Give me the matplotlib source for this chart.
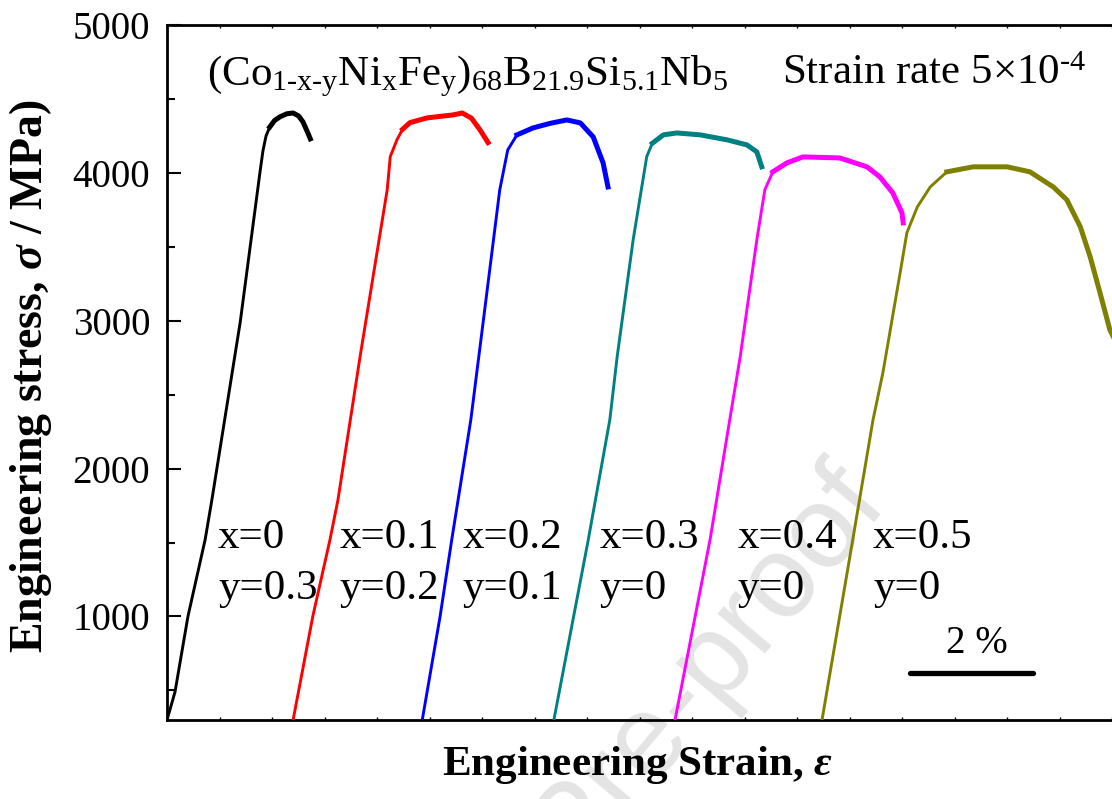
import numpy as np
import matplotlib.pyplot as plt
from matplotlib.ticker import MultipleLocator

plt.rcParams['font.family'] = 'Liberation Serif'
plt.rcParams['mathtext.fontset'] = 'custom'
plt.rcParams['mathtext.rm'] = 'Liberation Serif'
plt.rcParams['mathtext.it'] = 'Liberation Serif:italic'
plt.rcParams['mathtext.bf'] = 'Liberation Serif:bold'
plt.rcParams['mathtext.bfit'] = 'Liberation Serif:italic:bold'

# compression curves, strain in %, stress in MPa (curves shifted along strain)
strain_0 = [0.00, 0.13, 0.34, 0.62, 0.73, 1.19, 1.51, 1.56, 1.61, 1.67, 1.75, 1.84, 1.95, 2.05, 2.14, 2.21, 2.29, 2.33]
stress_0 = [300, 490, 1000, 1520, 1790, 2990, 4000, 4150, 4250, 4310, 4355, 4380, 4400, 4405, 4385, 4345, 4270, 4230]

strain_1 = [2.05, 2.37, 2.65, 2.78, 3.14, 3.58, 3.63, 3.74, 3.83, 3.95, 4.23, 4.65, 4.80, 4.95, 5.09, 5.22]
stress_1 = [300, 1000, 1520, 1790, 2760, 3885, 4110, 4225, 4295, 4340, 4372, 4392, 4405, 4370, 4290, 4205]

strain_2 = [4.15, 4.44, 4.63, 4.94, 5.14, 5.41, 5.54, 5.69, 5.95, 6.23, 6.50, 6.72, 6.93, 7.09, 7.17]
stress_2 = [300, 1000, 1520, 2331, 2990, 3885, 4155, 4257, 4304, 4335, 4358, 4338, 4243, 4068, 3905]

strain_3 = [6.29, 6.85, 7.20, 7.32, 7.58, 7.80, 7.89, 8.07, 8.29, 8.67, 9.11, 9.43, 9.59, 9.67]
stress_3 = [300, 1520, 2331, 2760, 3550, 4110, 4200, 4257, 4270, 4257, 4223, 4189, 4142, 4041]

strain_4 = [8.26, 8.83, 9.15, 9.32, 9.59, 9.72, 9.85, 10.08, 10.34, 10.94, 11.38, 11.59, 11.80, 11.95, 11.97]
stress_4 = [300, 1520, 2331, 2757, 3547, 3885, 4007, 4068, 4108, 4101, 4041, 3973, 3865, 3730, 3662]

strain_5 = [10.65, 11.15, 11.48, 11.64, 11.92, 12.03, 12.20, 12.41, 12.68, 13.11, 13.66, 14.03, 14.41, 14.63, 14.85, 15.01, 15.17, 15.33, 15.40]
stress_5 = [300, 1520, 2331, 2649, 3324, 3595, 3770, 3905, 4007, 4041, 4041, 4007, 3905, 3818, 3635, 3432, 3189, 2939, 2880]

strains = [strain_0, strain_1, strain_2, strain_3, strain_4, strain_5]
stresses = [stress_0, stress_1, stress_2, stress_3, stress_4, stress_5]

ni_labels = ['x=0', 'x=0.1', 'x=0.2', 'x=0.3', 'x=0.4', 'x=0.5']
fe_labels = ['y=0.3', 'y=0.2', 'y=0.1', 'y=0', 'y=0', 'y=0']
colors = ['black', '#FF0000', '#0000FF', '#008080', '#FF00FF', '#808000']

scale_bar = 2.0  # % strain

fig = plt.figure(figsize=(11.12, 7.99), dpi=100)
ax = fig.add_axes([0.1502, 0.0989, 0.8628, 0.8698])

for x, y, c in zip(strains, stresses, colors):
    x = np.array(x)
    y = np.array(y)
    ax.plot(x, y, color=c, lw=2.1, zorder=3, solid_joinstyle='round')
    # serrated flow region drawn as a thicker band
    top = y >= 0.97 * y.max()
    start = np.argmax(top)
    ax.plot(x[start:], y[start:], color=c, lw=3.6, zorder=3, solid_joinstyle='round')

# composition labels
label_x = [0.83, 2.81, 4.81, 7.04, 9.28, 11.48]
for lx, nl, fl in zip(label_x, ni_labels, fe_labels):
    ax.text(lx, 1466, nl, fontsize=31, va='baseline', ha='left')
    ax.text(lx, 1115, fl, fontsize=31, va='baseline', ha='left')

ax.text(0.65, 4595,
        r'(Co$_{\mathrm{1\text{-}x\text{-}y}}$Ni$_{\mathrm{x}}$Fe$_{\mathrm{y}}$)$_{68}$B$_{21.9}$Si$_{5.1}$Nb$_{5}$',
        fontsize=31, va='baseline', ha='left')
ax.text(10.0, 4601, r'Strain rate 5$\times$10$^{\mathrm{\text{-}4}}$',
        fontsize=31, va='baseline', ha='left')

# 2 % scale bar
ax.plot([12.08, 12.08 + scale_bar], [615, 615], color='black', lw=3.8,
        solid_capstyle='round', zorder=3)
ax.text(12.08 + scale_bar / 2 + 0.08, 750, '%g %%' % scale_bar, fontsize=28,
        ha='center', va='baseline')

ax.set_xlim(0, 15.6)
ax.set_ylim(300, 5000)
ax.yaxis.set_major_locator(MultipleLocator(1000))
ax.yaxis.set_minor_locator(MultipleLocator(500))
ax.xaxis.set_major_locator(MultipleLocator(0.8537))
ax.tick_params(axis='y', which='major', direction='in', length=10, width=1.5,
               labelsize=28, pad=12, right=True)
ax.tick_params(axis='y', which='minor', direction='in', length=5.5, width=1.5, right=True)
ax.tick_params(axis='x', which='major', direction='in', length=2.5, width=1,
               top=True, labelbottom=False)
for s in ax.spines.values():
    s.set_linewidth(2)

ax.set_xlabel(r'Engineering Strain, $\mathbfit{\varepsilon}$', fontsize=31, fontweight='bold')
ax.set_ylabel(r'Engineering stress, $\mathbfit{\sigma}$ / MPa)', fontsize=33, fontweight='bold')
ax.xaxis.set_label_coords(0.49, -0.035)
ax.yaxis.set_label_coords(-0.118, 0.494)

# journal watermark
ax.text(0.80, 0.368, 'Journal Pre-proof', transform=fig.transFigure, fontsize=84,
        family='Liberation Sans', color='#e4e4e4', rotation=50,
        rotation_mode='anchor', ha='right', va='baseline', zorder=0, clip_on=False)

fig.savefig('out.png', dpi=100)
